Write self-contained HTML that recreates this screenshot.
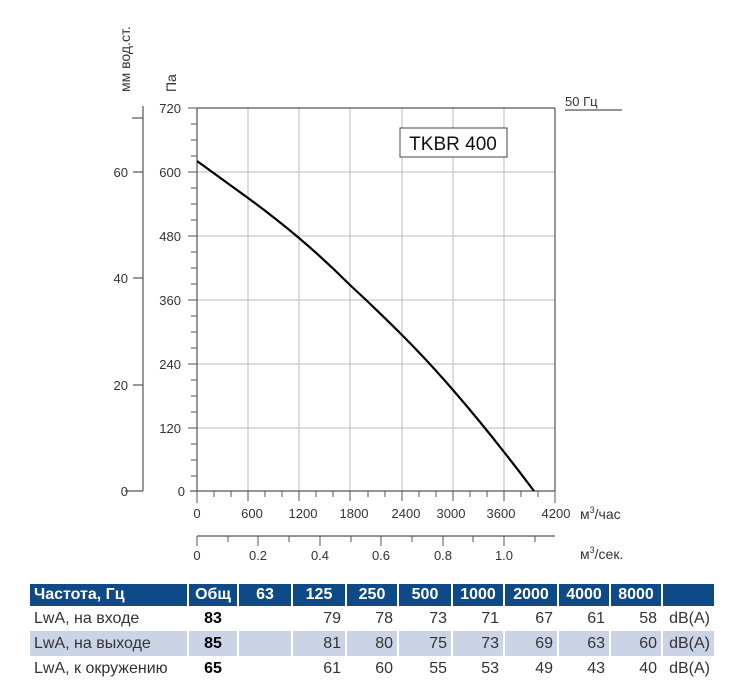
<!DOCTYPE html>
<html><head><meta charset="utf-8"><style>
body{margin:0;background:#fff;width:736px;height:689px;overflow:hidden;font-family:"Liberation Sans",sans-serif}
table{position:absolute;left:28px;top:584px;border-collapse:separate;border-spacing:2px 0;font-family:"Liberation Sans Narrow","Liberation Sans",sans-serif;font-size:16px;color:#333}
td{height:25px;padding:0 4px;text-align:right}
tr.h td{background:#0d4a87;color:#fff;font-weight:bold;text-align:center;height:22px}
tr.h td.l{text-align:left}
tr.b td{background:#cbd3e7}
td.l{text-align:left}
td.o{font-weight:bold;color:#000;text-align:center}
</style></head><body>
<svg width="736" height="580" style="position:absolute;left:0;top:0" font-family="Liberation Sans, sans-serif" font-size="13" fill="#333">
<g stroke="#bbb" stroke-width="1">
<line x1="248" y1="108" x2="248" y2="491"/><line x1="299" y1="108" x2="299" y2="491"/><line x1="350" y1="108" x2="350" y2="491"/><line x1="402" y1="108" x2="402" y2="491"/><line x1="453" y1="108" x2="453" y2="491"/><line x1="504" y1="108" x2="504" y2="491"/>
<line x1="197" y1="172" x2="555" y2="172"/><line x1="197" y1="236" x2="555" y2="236"/><line x1="197" y1="300" x2="555" y2="300"/><line x1="197" y1="364" x2="555" y2="364"/><line x1="197" y1="428" x2="555" y2="428"/>
</g>
<g stroke="#555" stroke-width="1.2" fill="none">
<line x1="197" y1="108" x2="555" y2="108"/><line x1="197" y1="108" x2="197" y2="491"/><line x1="555" y1="108" x2="555" y2="491"/><line x1="190" y1="491" x2="555" y2="491"/>
<line x1="143" y1="106" x2="143" y2="491"/><line x1="132" y1="118" x2="143" y2="118"/><line x1="133" y1="172" x2="143" y2="172"/><line x1="133" y1="278" x2="143" y2="278"/><line x1="133" y1="385" x2="143" y2="385"/><line x1="125" y1="491" x2="143" y2="491"/>
<line x1="197" y1="536" x2="555" y2="536"/>
<line x1="565" y1="110" x2="622" y2="110"/>
</g>
<g stroke="#555" stroke-width="1">
<path d="M188 108h9M191 124h6M191 140h6M191 156h6M188 172h9M191 188h6M191 204h6M191 220h6M188 236h9M191 252h6M191 268h6M191 284h6M188 300h9M191 316h6M191 332h6M191 348h6M188 364h9M191 380h6M191 396h6M191 412h6M188 428h9M191 444h6M191 460h6M191 476h6"/>
<path d="M197 491v12M214 491v6M231 491v6M248 491v10M265 491v6M282 491v6M299 491v10M316 491v6M333 491v6M350 491v10M368 491v6M385 491v6M402 491v10M419 491v6M436 491v6M453 491v10M470 491v6M487 491v6M504 491v10M521 491v6M538 491v6M555 491v12"/>
<path d="M197 536v10M228 536v6M258 536v10M289 536v6M320 536v10M351 536v6M381 536v10M412 536v6M443 536v10M473 536v6M504 536v10M535 536v6"/>
</g>
<path d="M197 161 Q222 179,248 198 T299 238 Q325 260,350 285 Q376 309,402 335 Q428 361,453 390 Q479 420,504 452 Q519 471,534 491" stroke="#000" stroke-width="2.2" fill="none"/>
<rect x="400" y="128" width="107" height="29" fill="#fff" stroke="#444"/>
<text x="453" y="150" text-anchor="middle" font-size="19" fill="#111">TKBR 400</text>
<text x="565" y="106" font-size="13">50 Гц</text>
<g text-anchor="end"><text x="181" y="113">720</text><text x="181" y="177">600</text><text x="181" y="241">480</text><text x="181" y="305">360</text><text x="181" y="369">240</text><text x="181" y="433">120</text><text x="185" y="496">0</text>
<text x="128" y="177">60</text><text x="128" y="283">40</text><text x="128" y="390">20</text><text x="128" y="496">0</text></g>
<g text-anchor="middle"><text x="197" y="518">0</text><text x="252" y="518">600</text><text x="303" y="518">1200</text><text x="354" y="518">1800</text><text x="406" y="518">2400</text><text x="451" y="518">3000</text><text x="501" y="518">3600</text><text x="556" y="518">4200</text>
<text x="197" y="560">0</text><text x="258" y="560">0.2</text><text x="320" y="560">0.4</text><text x="381" y="560">0.6</text><text x="443" y="560">0.8</text><text x="504" y="560">1.0</text></g>
<text x="580" y="519" font-size="14">м<tspan dy="-6" font-size="9">3</tspan><tspan dy="6">/час</tspan></text>
<text x="580" y="559" font-size="14">м<tspan dy="-6" font-size="9">3</tspan><tspan dy="6">/сек.</tspan></text>
<text transform="translate(176,92) rotate(-90)" font-size="14">Па</text>
<text transform="translate(130,92) rotate(-90)" font-size="14">мм вод.ст.</text>
</svg>
<table>
<tr class="h"><td class="l" style="width:149px">Частота, Гц</td><td style="width:40px">Общ</td><td style="width:44px">63</td><td style="width:44px">125</td><td style="width:42px">250</td><td style="width:44px">500</td><td style="width:42px">1000</td><td style="width:44px">2000</td><td style="width:42px">4000</td><td style="width:42px">8000</td><td style="width:43px"></td></tr>
<tr><td class="l">LwA, на входе</td><td class="o">83</td><td></td><td>79</td><td>78</td><td>73</td><td>71</td><td>67</td><td>61</td><td>58</td><td>dB(A)</td></tr>
<tr class="b"><td class="l">LwA, на выходе</td><td class="o">85</td><td></td><td>81</td><td>80</td><td>75</td><td>73</td><td>69</td><td>63</td><td>60</td><td>dB(A)</td></tr>
<tr><td class="l">LwA, к окружению</td><td class="o">65</td><td></td><td>61</td><td>60</td><td>55</td><td>53</td><td>49</td><td>43</td><td>40</td><td>dB(A)</td></tr>
</table>
</body></html>
